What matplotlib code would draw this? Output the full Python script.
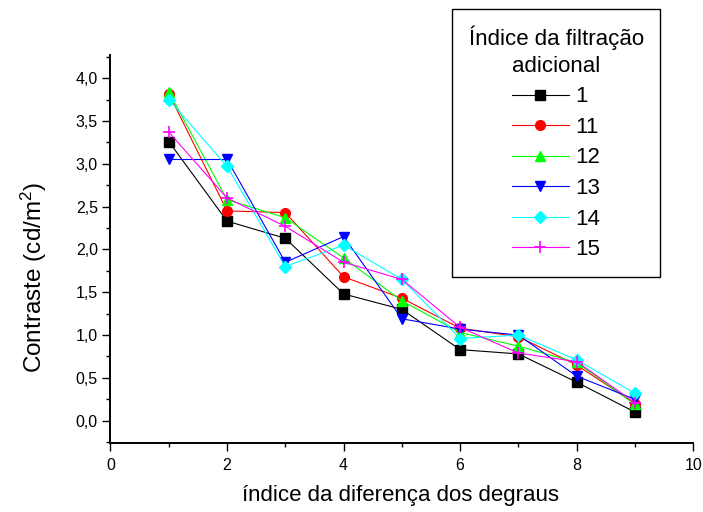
import matplotlib
matplotlib.use("Agg")
import matplotlib.pyplot as plt
from matplotlib.ticker import MultipleLocator

plt.rcParams['font.family'] = ['Liberation Sans', 'DejaVu Sans']
plt.rcParams['mathtext.fontset'] = 'custom'
plt.rcParams['mathtext.rm'] = 'Liberation Sans'

# ---- data ----
x_steps = [1, 2, 3, 4, 5, 6, 7, 8, 9]
series_labels = ['1', '11', '12', '13', '14', '15']
s1 = [3.26, 2.33, 2.13, 1.48, 1.30, 0.83, 0.78, 0.45, 0.10]
s11 = [3.82, 2.45, 2.43, 1.68, 1.43, 1.08, 0.98, 0.65, 0.20]
s12 = [3.84, 2.58, 2.37, 1.90, 1.40, 1.03, 0.87, 0.68, 0.19]
s13 = [3.05, 3.05, 1.85, 2.15, 1.19, 1.07, 1.00, 0.52, 0.25]
s14 = [3.75, 2.97, 1.80, 2.05, 1.65, 0.96, 1.00, 0.71, 0.32]
s15 = [3.37, 2.60, 2.27, 1.85, 1.65, 1.09, 0.79, 0.69, 0.21]
series_values = [s1, s11, s12, s13, s14, s15]

x_ticks = [0, 2, 4, 6, 8, 10]
x_tick_labels = ['0', '2', '4', '6', '8', '10']
y_ticks = [0.0, 0.5, 1.0, 1.5, 2.0, 2.5, 3.0, 3.5, 4.0]
y_tick_labels = ['0,0', '0,5', '1,0', '1,5', '2,0', '2,5', '3,0', '3,5', '4,0']

x_label = 'índice da diferença dos degraus'
y_label = 'Contraste (cd/m$\\mathregular{^2}$)'
legend_title = 'Índice da filtração\nadicional'

# ---- styles ----
colors = ['#000000', '#FF0000', '#00FF00', '#0000FF', '#00FFFF', '#FF00FF']
markers = ['s', 'o', '^', 'v', 'D', '+']
msizes = [6.5, 7, 7.5, 7.5, 6.5, 8]

W, H = 703, 512
fig = plt.figure(figsize=(W / 100, H / 100), dpi=100)
ax = fig.add_axes([110.5 / W, 1 - 443.0 / H, (693.3 - 110.5) / W, (443.0 - 55) / H])

for vals, lab, c, m, ms in zip(series_values, series_labels, colors, markers, msizes):
    ax.plot(x_steps, vals, color=c, lw=0.8, marker=m, markersize=ms,
            markerfacecolor=c, markeredgecolor=c,
            markeredgewidth=1.0 if m != '+' else 1.2, label=lab)

ax.set_xlim(0, 10)
ax.set_ylim(-0.26, 4.27)
ax.set_xticks(x_ticks)
ax.set_xticklabels(x_tick_labels)
ax.set_yticks(y_ticks)
ax.set_yticklabels(y_tick_labels)
ax.xaxis.set_minor_locator(MultipleLocator(1))
ax.yaxis.set_minor_locator(MultipleLocator(0.25))

for side in ['top', 'right']:
    ax.spines[side].set_visible(False)
for side in ['left', 'bottom']:
    ax.spines[side].set_linewidth(1.4)

ax.tick_params(which='major', direction='out', length=5.5, width=1.0, labelsize=11.5)
ax.tick_params(which='minor', direction='out', length=2.8, width=1.0)
ax.tick_params(axis='x', which='major', pad=5.5)
ax.tick_params(axis='y', which='major', pad=3.5)

fig.text(401 / W, 1 - 496 / H, x_label, fontsize=16, ha='center', va='center')
fig.text(33.5 / W, 1 - 277 / H, y_label, fontsize=17.5, ha='center', va='center',
         rotation=90)

leg = ax.legend(title=legend_title, loc='upper left',
                bbox_to_anchor=(452 / W, 1 - 9 / H), bbox_transform=fig.transFigure,
                fontsize=16, title_fontsize=16, frameon=True, fancybox=False,
                edgecolor='black', framealpha=1, borderpad=0.75,
                labelspacing=0.43, handlelength=2.57, handletextpad=0.3,
                borderaxespad=0, alignment='center')
leg.get_frame().set_linewidth(1.0)
leg.get_title().set_multialignment('center')
leg.get_title().set_linespacing(1.35)

fig.savefig('out.png', dpi=100)
